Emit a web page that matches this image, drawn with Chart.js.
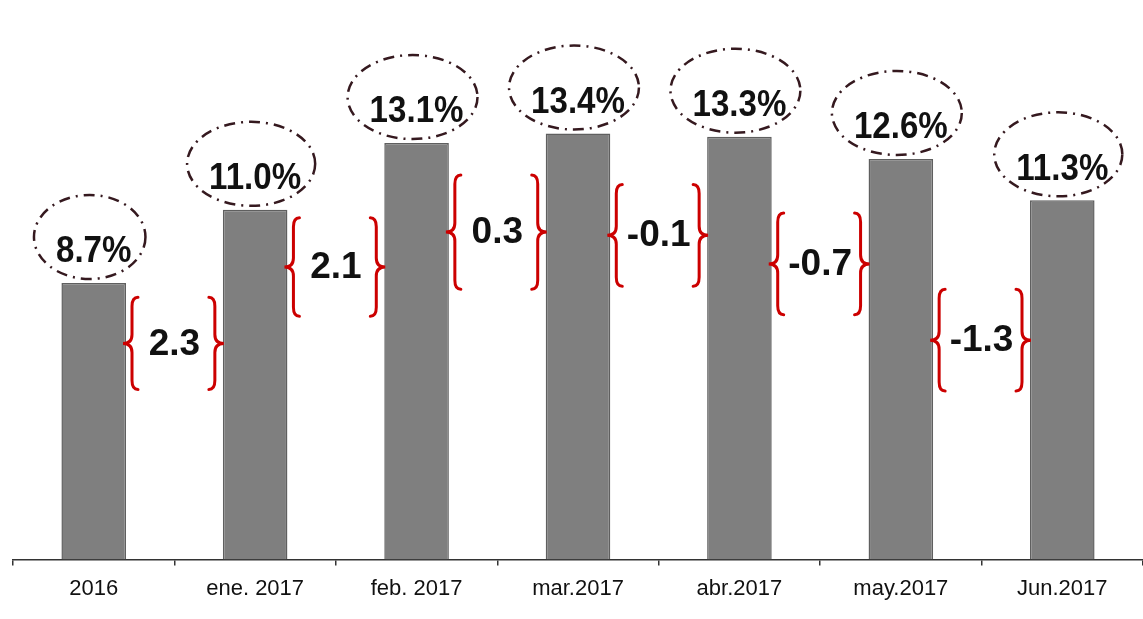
<!DOCTYPE html>
<html>
<head>
<meta charset="utf-8">
<script src="https://cdn.jsdelivr.net/npm/chart.js@4.4.0/dist/chart.umd.min.js"></script>
<style>
  html, body { margin: 0; padding: 0; background: #fff; }
</style>
</head>
<body>
<canvas id="myChart" width="1143" height="619"></canvas>
<script>
const labels = ['2016', 'ene. 2017', 'feb. 2017', 'mar.2017', 'abr.2017', 'may.2017', 'Jun.2017'];
const rates = [8.7, 11.0, 13.1, 13.4, 13.3, 12.6, 11.3];
const changes = [2.3, 2.1, 0.3, -0.1, -0.7, -1.3];

// where the red braces sit between bars (axis units): centre and half height
const braceMid = [6.8, 9.2, 10.3, 10.2, 9.3, 6.9];
const braceHalf = [1.45, 1.55, 1.8, 1.6, 1.6, 1.6];

const FONT = '"Liberation Sans", Arial, sans-serif';
Chart.defaults.font.family = FONT;

function brace(ctx, tipX, top, bottom, dir) {
    // dir 1 -> '{' tip on the left, dir -1 -> '}' tip on the right
    const mid = (top + bottom) / 2;
    const bx = tipX + dir * 9;
    const ex = tipX + dir * 15;
    ctx.beginPath();
    ctx.moveTo(ex, top);
    ctx.quadraticCurveTo(bx, top, bx, top + 9);
    ctx.lineTo(bx, mid - 9);
    ctx.quadraticCurveTo(bx, mid, tipX, mid);
    ctx.quadraticCurveTo(bx, mid, bx, mid + 9);
    ctx.lineTo(bx, bottom - 9);
    ctx.quadraticCurveTo(bx, bottom, ex, bottom);
    ctx.stroke();
}

const notes = {
    id: 'notes',
    afterDatasetsDraw(chart) {
        const ctx = chart.ctx;
        const bars = chart.getDatasetMeta(0).data;
        const y = chart.scales.y;
        ctx.save();

        // value labels in dash-dot ellipses
        bars.forEach((bar, i) => {
            const txt = rates[i].toFixed(1) + '%';
            ctx.font = 'bold 36px ' + FONT;
            const w = ctx.measureText(txt).width * 0.92;
            ctx.beginPath();
            ctx.setLineDash([11, 6, 2, 6]);
            ctx.lineWidth = 2.5;
            ctx.strokeStyle = '#35191f';
            ctx.ellipse(bar.x - 4, bar.y - 46, w / 2 + 18, 42, 0, 0, Math.PI * 2);
            ctx.stroke();
            ctx.setLineDash([]);

            ctx.save();
            ctx.translate(bar.x, bar.y - 31);
            ctx.scale(0.92, 1.05);
            ctx.fillStyle = '#111';
            ctx.textAlign = 'center';
            ctx.textBaseline = 'middle';
            ctx.fillText(txt, 0, 0);
            ctx.restore();
        });

        // red braces with the change between bars
        ctx.strokeStyle = '#cc0000';
        ctx.lineWidth = 3;
        ctx.lineCap = 'round';
        changes.forEach((c, i) => {
            const a = bars[i], b = bars[i + 1];
            const left = a.x + a.width / 2;
            const right = b.x - b.width / 2;
            const top = y.getPixelForValue(braceMid[i] + braceHalf[i]);
            const bottom = y.getPixelForValue(braceMid[i] - braceHalf[i]);
            brace(ctx, left - 3, top, bottom, 1);
            brace(ctx, right + 1, top, bottom, -1);

            ctx.font = 'bold 37px ' + FONT;
            ctx.fillStyle = '#111';
            ctx.textAlign = 'center';
            ctx.textBaseline = 'middle';
            ctx.fillText(c.toFixed(1), (left + right) / 2, (top + bottom) / 2 + 1);
        });
        ctx.restore();
    }
};

const ctx = document.getElementById('myChart').getContext('2d');
const myChart = new Chart(ctx, {
    type: 'bar',
    data: {
        labels: labels,
        datasets: [{
            data: rates,
            backgroundColor: '#7f7f7f',
            borderColor: '#5f5f5f',
            borderWidth: 1.5,
            barPercentage: 0.4,
            categoryPercentage: 1.0,
        }]
    },
    options: {
        responsive: false,
        animation: false,
        devicePixelRatio: 1,
        layout: { padding: { left: 13, right: 0, top: 0, bottom: 7 } },
        plugins: {
            legend: { display: false },
            tooltip: { enabled: false },
        },
        scales: {
            x: {
                grid: {
                    display: true,
                    drawOnChartArea: false,
                    drawTicks: true,
                    tickLength: 6,
                    color: '#333',
                    lineWidth: 1.5,
                },
                border: { display: true, color: '#333', width: 1.5 },
                ticks: { color: '#111', font: { size: 22 }, padding: 10 },
            },
            y: {
                display: false,
                min: 0,
                max: 17.6,
            }
        }
    },
    plugins: [notes]
});
</script>
</body>
</html>
